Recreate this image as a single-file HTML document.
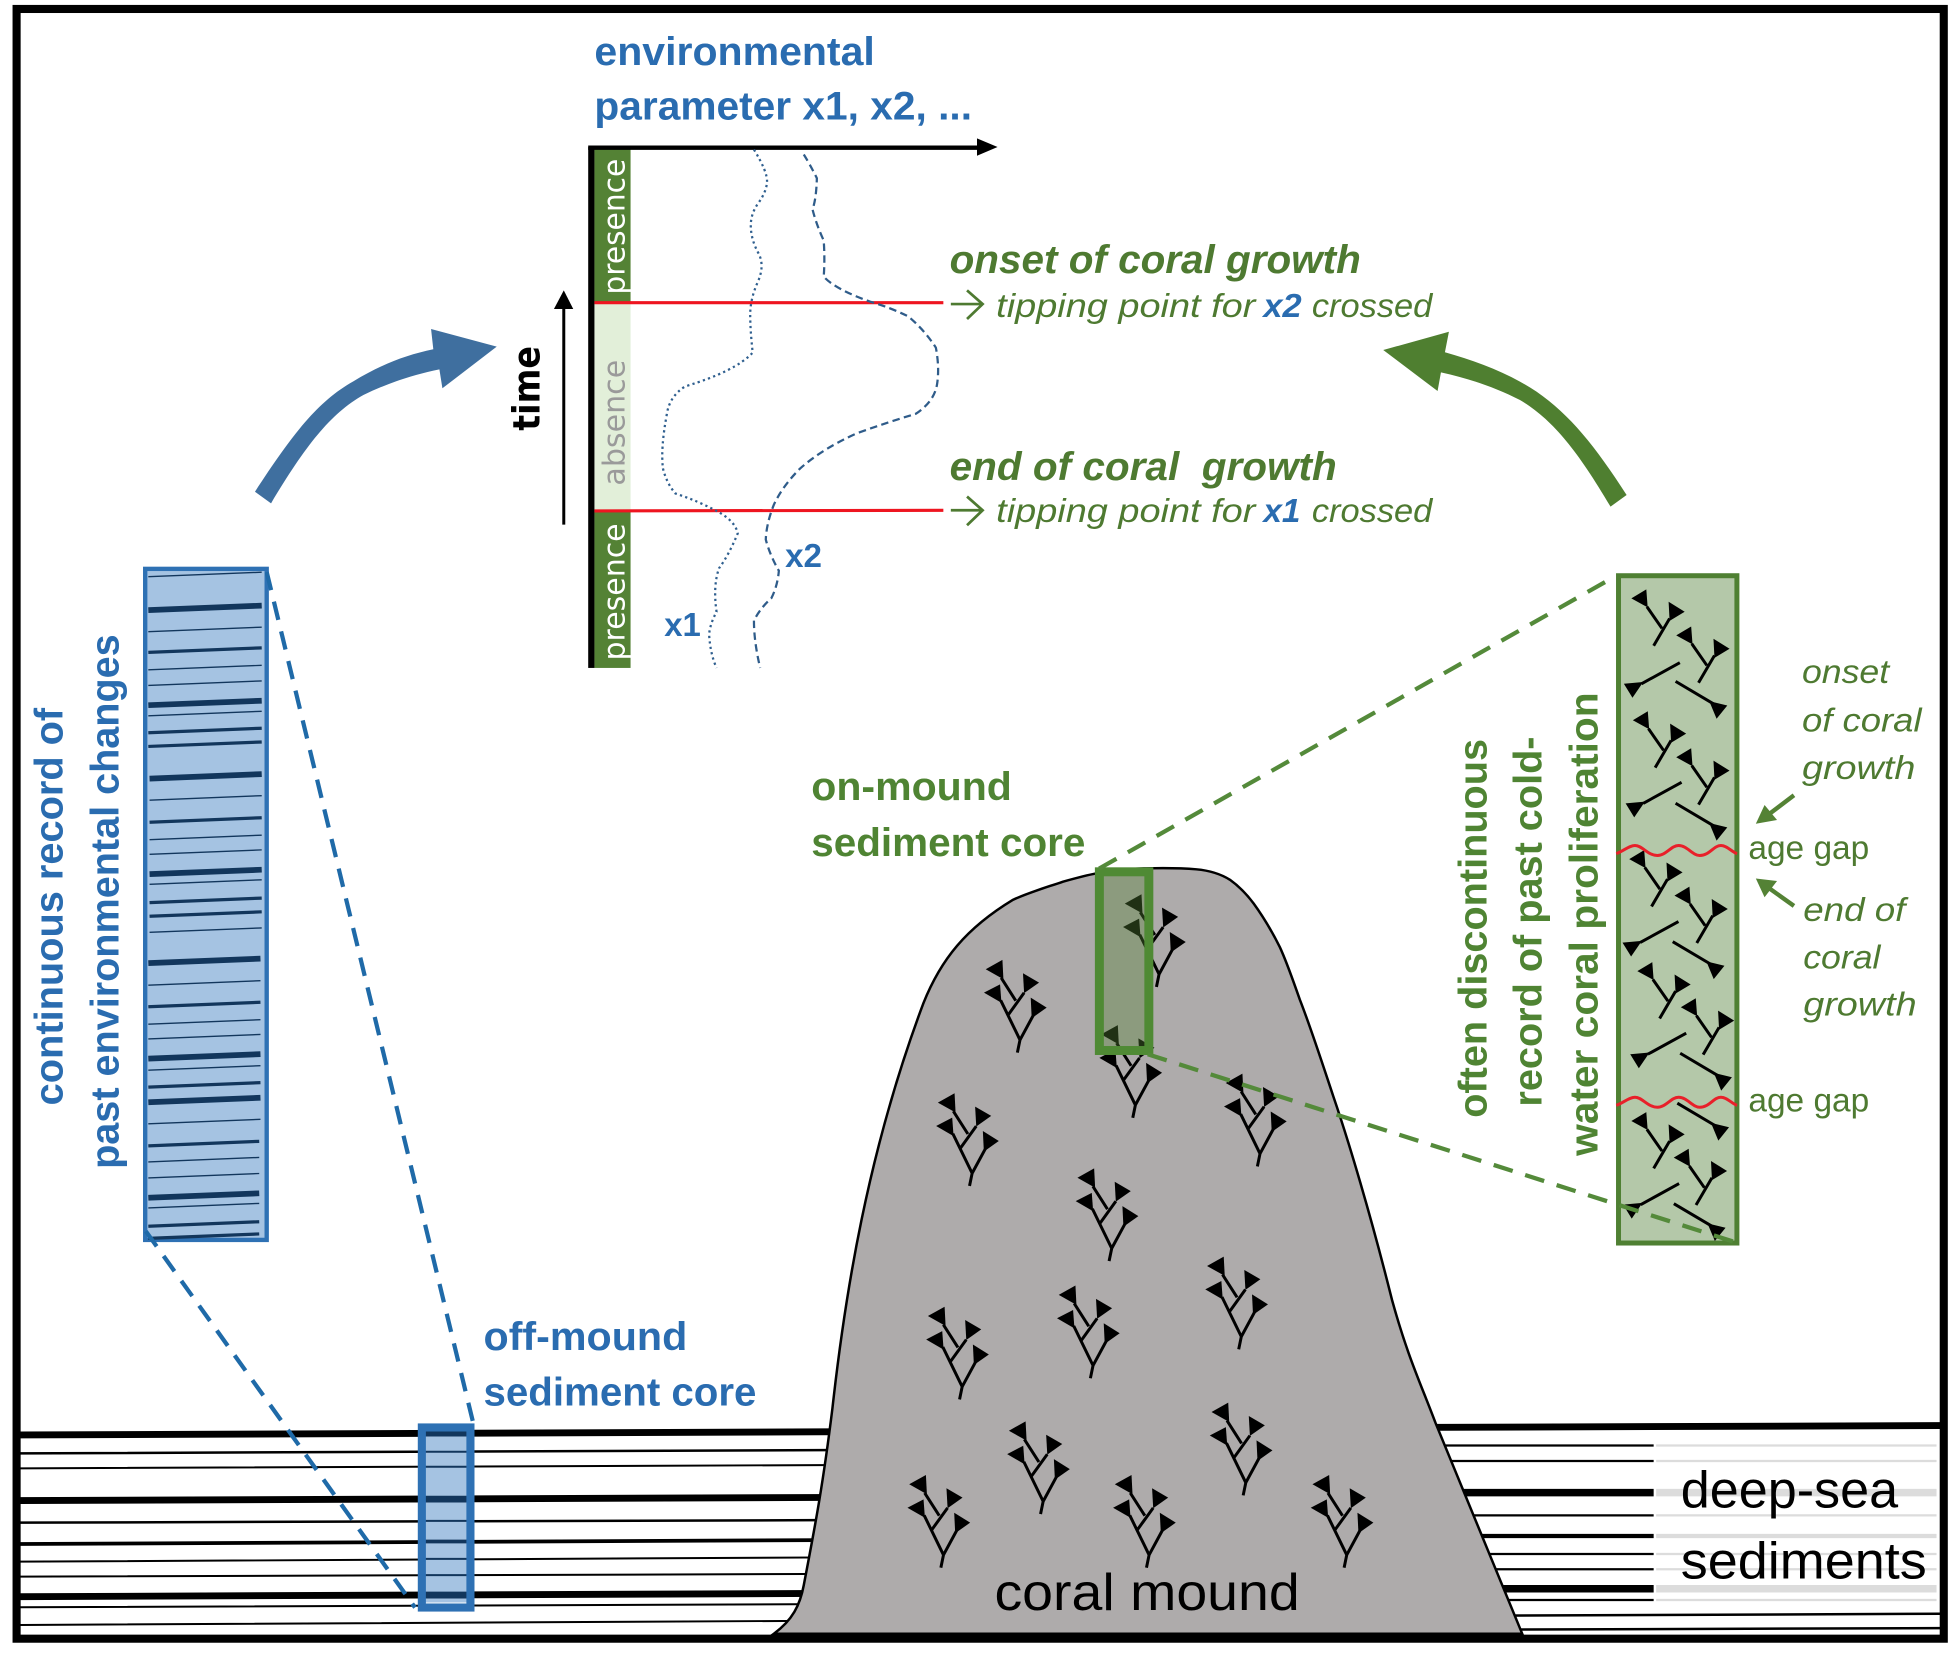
<!DOCTYPE html>
<html><head><meta charset="utf-8"><style>
html,body{margin:0;padding:0;background:#fff}
svg{display:block}
text{font-family:"Liberation Sans",sans-serif}
.b{font-weight:bold}
.blue{fill:#2a6cb0}
.grn{fill:#4f8433}
.dg{fill:#4e7a31}
</style></head><body>
<svg xmlns="http://www.w3.org/2000/svg" width="1954" height="1658" viewBox="0 0 1568 1330.5">
<defs>
<g id="c" fill="#000" stroke="none">
<path d="M0,0L2.1,-10.2M2.1,-10.2L-13.4,-42M2.1,-10.2L12.8,-30M-13,-60L-1.3,-41.7M5.4,-48L-8,-29.4" stroke="#000" stroke-width="2.4" fill="none"/>
<path d="M-26.8,-48.1L-13.9,-54.8L-12.8,-40Z"/>
<path d="M-25.4,-66.9L-12,-74.4L-11.2,-58.9Z"/>
<path d="M4.5,-63.7L17.4,-56.2L5.4,-47.7Z"/>
<path d="M10.7,-44.1L23.5,-36.1L11.5,-27.6Z"/>
</g>
<g id="y">
<path d="M-5.4,-31.3L6.7,-13.9M12.8,-21.9L0,0" stroke="#000" stroke-width="2.4" fill="none"/>
<path d="M-17.9,-38L-5.9,-45.2L-4.8,-30.8Z M12,-35.3L24.9,-27.3L12.8,-20Z" fill="#000"/>
</g>
<g id="l">
<path d="M0,0L-30.8,16.9" stroke="#000" stroke-width="2.4" fill="none"/>
<path d="M-44.9,16.9L-29.4,15.5L-38,28.1Z" fill="#000"/>
</g>
<g id="r">
<path d="M0,0L30.2,17.9" stroke="#000" stroke-width="2.4" fill="none"/>
<path d="M27,15.8L41.5,19.3L32.9,30Z" fill="#000"/>
</g>
</defs>

<rect width="1568" height="1330.5" fill="#fff"/>

<!-- left sediment layers -->
<g stroke="#000" fill="none">
<path d="M16,1151.5L680,1148.9M16,1204.2L680,1201.6M16,1281.3L680,1278.6" stroke-width="5.5"/>
<path d="M16,1239L680,1235.8" stroke-width="3"/>
<path d="M16,1166.3L680,1163.6M16,1221.9L680,1219.8" stroke-width="2"/>
<path d="M16,1178.3L680,1175.6M16,1253.2L680,1249.7M16,1265.2L680,1263M16,1289.8L680,1287.2M16,1304L680,1300.5" stroke-width="1.6"/>
</g>
<!-- right sediment layers -->
<g stroke="#000" fill="none">
<path d="M1130,1145.5L1557,1144" stroke-width="5.5"/>
<path d="M1130,1160H1327M1130,1172.4H1327M1130,1216H1327M1130,1247H1327M1130,1259.3H1327M1130,1284H1327" stroke-width="1.8"/>
<path d="M1130,1232.6H1327" stroke-width="3.5"/>
<path d="M1130,1197.8H1327M1130,1274.9H1327" stroke-width="6"/>
<path d="M1130,1296.8L1557,1295M1130,1308L1557,1306.5" stroke-width="2"/>
</g>
<g stroke="#dcdcdc" fill="none">
<path d="M1329,1160H1554M1329,1172.4H1554M1329,1216H1554M1329,1247H1554M1329,1259.3H1554M1329,1284H1554" stroke-width="1.8"/>
<path d="M1329,1232.6H1554" stroke-width="3.5"/>
<path d="M1329,1197.8H1554M1329,1274.9H1554" stroke-width="6"/>
</g>

<!-- mound -->
<path d="M621,1311 C636,1300 642,1288 645,1272 C653,1230 660,1195 668,1130 C678,1040 696,925 741,805 C755,770 775,745 813,722 C826,716 840,712 853,707.5 C862,705 871,702.5 880,700.8 C893,698.5 907,697 920,696.8 C933,696.5 947,696.5 960,697.6 C970,698.5 979,701 987,706 C994,711 1000,717 1006,725 C1014,736 1021,748 1027,760 C1033,773 1038,788 1043,802 C1052,825 1060,850 1070,880 C1082,915 1100,975 1117,1043 C1130,1090 1140,1110 1152,1142 L1221.5,1311 Z" fill="#aeabab" stroke="#000" stroke-width="2"/>

<!-- corals in mound -->
<use href="#c" x="816.4" y="844.7"/><use href="#c" x="909" y="897"/><use href="#c" x="778" y="951.7"/>
<use href="#c" x="1009" y="936"/><use href="#c" x="928" y="792"/><use href="#c" x="890" y="1012"/>
<use href="#c" x="770" y="1123"/><use href="#c" x="875" y="1106"/><use href="#c" x="994" y="1082.8"/>
<use href="#c" x="835" y="1215"/><use href="#c" x="997.6" y="1200"/><use href="#c" x="755" y="1258"/>
<use href="#c" x="920" y="1258"/><use href="#c" x="1078.6" y="1258"/>

<!-- off-mound core -->
<rect x="338.5" y="1145.5" width="39" height="144.5" fill="#a5c3e2"/>
<g stroke="#12365c" fill="none">
<path d="M339,1150H377M339,1203H377M339,1280H377" stroke-width="5.5"/>
<path d="M339,1237H377" stroke-width="3"/>
<path d="M339,1165H377M339,1220.5H377M339,1177H377M339,1251H377M339,1264H377" stroke-width="1.6"/>
<path d="M339,1287H377" stroke="#fff" stroke-width="2"/>
</g>
<rect x="338.5" y="1145.5" width="39" height="144.5" fill="none" stroke="#2e71b4" stroke-width="6.5"/>

<!-- green core in mound -->
<rect x="882.2" y="699.6" width="39.7" height="143.4" fill="#548235" fill-opacity=".38" stroke="#4f8a34" stroke-width="7.2"/>

<!-- blue core left -->
<rect x="116.5" y="456.5" width="97.5" height="538.5" fill="#a5c3e2" stroke="#2e71b4" stroke-width="3.5"/>
<g fill="none" stroke="#12365c">
<path stroke-width="4.6" d="M119,489.6L210,486M119,565.9L210,562.3M120,624.8L210,621.2M120,701.5L210,697.9M119,772.9L209,769.3M119,849.5L209,845.9M119,884.5L209,880.9M119,961.2L208,957.6"/>
<path stroke-width="2.6" d="M119,523.5L210,519.9M119,588L210,584.4M119,599L210,595.4M120,659.8L210,656.2M120,724.3L210,720.7M120,735.3L210,731.7M119,807.9L209,804.3M119,872.4L209,868.8M119,919.5L208,915.9M119,984L208,980.4M119,993.8L208,990.2"/>
<path stroke-width="1.1" d="M119,462.8L210,459.2M119,506.9L210,503.3M119,537.5L210,533.9M119,550L210,546.4M119,574.4L210,570.8M120,642.1L210,638.5M120,673.8L210,670.2M120,685.6L210,682M120,709.6L210,706M120,748.2L210,744.6M119,790.6L209,787M119,821.9L209,818.3M119,833.7L209,830.1M119,858.8L209,855.2M119,901.8L209,898.2M119,932.4L208,928.8M119,945.3L208,941.7M119,969.3L208,965.7"/>
</g>

<!-- blue dashes -->
<path d="M214,459L380,1143M117,988L333,1290" fill="none" stroke="#1f6aa8" stroke-width="3.4" stroke-dasharray="15 9.5"/>

<!-- right core -->
<rect x="1298.8" y="462" width="95" height="535.5" fill="#b4c8a9" stroke="#4f8033" stroke-width="4"/>
<use href="#y" x="1327" y="518.2"/><use href="#y" x="1363" y="547.9"/><use href="#y" x="1328.2" y="616"/>
<use href="#y" x="1363" y="645.7"/><use href="#y" x="1325.3" y="727.4"/><use href="#y" x="1361.6" y="756.7"/>
<use href="#y" x="1331.8" y="817.3"/><use href="#y" x="1366.7" y="846.3"/><use href="#y" x="1327" y="937.6"/>
<use href="#y" x="1361" y="967"/>
<use href="#l" x="1348" y="531.8"/><use href="#l" x="1349.4" y="627.8"/><use href="#l" x="1346.9" y="739.5"/>
<use href="#l" x="1353.1" y="829.1"/><use href="#l" x="1347.4" y="949.8"/>
<use href="#r" x="1344.6" y="546.8"/><use href="#r" x="1344.6" y="644.6"/><use href="#r" x="1342.3" y="755.7"/>
<use href="#r" x="1348.3" y="845.2"/><use href="#r" x="1346" y="885.3"/><use href="#r" x="1343.2" y="965.9"/>

<!-- red waves -->
<g fill="none" stroke="#e8202a" stroke-width="2.4">
<path d="M1297,685 C1303,683 1307,678.5 1312,678.5 C1318,678.5 1322,686.5 1330,686.5 C1337,686.5 1341,678.5 1347,678.5 C1354,678.5 1358,686.5 1364,686.5 C1372,686.5 1375,678.5 1381,678.5 C1386,678.5 1390,684 1394,685"/>
<path d="M1297,887 C1303,885 1307,880.5 1312,880.5 C1318,880.5 1322,888.5 1330,888.5 C1337,888.5 1341,880.5 1347,880.5 C1354,880.5 1358,888.5 1364,888.5 C1372,888.5 1375,880.5 1381,880.5 C1386,880.5 1390,886 1394,887"/>
</g>

<!-- green dashes -->
<path d="M882,697L1297,462M921,846L1393,997" fill="none" stroke="#548a3a" stroke-width="3.4" stroke-dasharray="16 10.5"/>

<!-- small green arrows -->
<path d="M1439.6,638.2L1420,653" stroke="#548235" stroke-width="3.5" fill="none"/>
<path d="M1409,661L1416,646L1426,658Z" fill="#548235"/>
<path d="M1439.6,727L1420,713" stroke="#548235" stroke-width="3.5" fill="none"/>
<path d="M1409,705L1426,707L1416,720Z" fill="#548235"/>

<!-- big arrows -->
<path d="M204.6,394.6 C235,348 255,322 283.5,306 C305,293 325,285 347.7,280.3 L345.9,264 L398.6,278.2 L355,311.6 L352.6,296.4 C330,301 310,308 291.6,317 C265,332 245,358 217.5,403.9 Z" fill="#3f6f9f"/>
<path d="M1305.3,397.2 C1280,358 1260,333 1233,314.3 C1210,299 1185,290 1159.5,282.7 L1162.7,266.2 L1110,280.9 L1153.6,313.8 L1156.3,298.8 C1180,304 1200,311 1219.7,321 C1245,336 1265,360 1292.4,406.6 Z" fill="#4f7f30"/>

<!-- chart -->
<rect x="477" y="118" width="29" height="124.5" fill="#548235"/>
<rect x="477" y="242.5" width="29" height="168" fill="#e2efd9"/>
<rect x="477" y="410.5" width="29" height="125.5" fill="#548235"/>
<rect x="472" y="118" width="5" height="418" fill="#000"/>
<path d="M472,118.5H786" stroke="#000" stroke-width="3.5"/>
<path d="M784,111L800.5,118L784,125Z" fill="#000"/>
<path d="M452.4,421V246" stroke="#000" stroke-width="2.4"/>
<path d="M444.5,248L452.4,233L460,248Z" fill="#000"/>
<path d="M477,242.9H757M477,410L757,409.5" stroke="#ee1520" stroke-width="2.5"/>
<path d="M605,120 Q616,138 615.5,146 Q615,154 608.5,163 Q602,172 602.5,182.5 Q603,193 608.5,203 Q614,213 608,226.5 Q602,240 602,252.5 Q602,265 604,283 Q590,298 550,310 Q537,318 535,333 Q530,360 532,376 Q535,388 542,396 Q560,402 575,410 Q590,418 592,428 Q585,445 577,456 Q572,470 575,491 Q570,500 569,509 Q570,525 575,536" fill="none" stroke="#2f5f8f" stroke-width="1.8" stroke-dasharray="1.8 2.6"/>
<path d="M645,124 Q650,132 655.5,143 Q655,160 652,168 Q655,180 661,193 Q662,208 661,222 Q670,232 698,242 Q715,247 729,254 Q742,265 751,279 Q754,295 752,308 Q750,322 735,332 Q712,339 688,347.5 Q660,360 642,376 Q628,390 621,405 Q615,420 614.5,433 Q618,446 625,458 Q624,470 619,480 Q610,488 605,498 Q605,515 610,536" fill="none" stroke="#2f5c8a" stroke-width="1.8" stroke-dasharray="6 3.5"/>

<g font-size="24">
<text transform="translate(501,236.4) rotate(-90)" fill="#fff" textLength="109" lengthAdjust="spacingAndGlyphs" style="font-family:'DejaVu Sans',sans-serif">presence</text>
<text transform="translate(501,530) rotate(-90)" fill="#fff" textLength="110" lengthAdjust="spacingAndGlyphs" style="font-family:'DejaVu Sans',sans-serif">presence</text>
<text transform="translate(501,389.7) rotate(-90)" fill="#9a9a9a" textLength="101" lengthAdjust="spacingAndGlyphs" style="font-family:'DejaVu Sans',sans-serif">absence</text>
</g>
<text transform="translate(433,345.7) rotate(-90)" font-size="30" font-weight="bold" fill="#000" textLength="68" lengthAdjust="spacingAndGlyphs" style="font-family:'DejaVu Sans',sans-serif">time</text>

<!-- blue labels -->
<g class="b blue" font-size="32">
<text x="477" y="52" textLength="225" lengthAdjust="spacingAndGlyphs">environmental</text>
<text x="477" y="96" textLength="303" lengthAdjust="spacingAndGlyphs">parameter x1, x2, ...</text>
<text x="388" y="1083.3" textLength="163.5" lengthAdjust="spacingAndGlyphs">off-mound</text>
<text x="388" y="1128" textLength="219" lengthAdjust="spacingAndGlyphs">sediment core</text>
<text transform="translate(50.3,887) rotate(-90)" textLength="319" lengthAdjust="spacingAndGlyphs">continuous record of</text>
<text transform="translate(95,938) rotate(-90)" textLength="429" lengthAdjust="spacingAndGlyphs">past environmental changes</text>
</g>
<g class="b blue" font-size="27">
<text x="533" y="510.5" textLength="29.4" lengthAdjust="spacingAndGlyphs">x1</text>
<text x="630" y="455" textLength="29.6" lengthAdjust="spacingAndGlyphs">x2</text>
</g>

<!-- green labels -->
<g class="b grn" font-size="32">
<text x="651" y="642" textLength="161" lengthAdjust="spacingAndGlyphs">on-mound</text>
<text x="651" y="687" textLength="220" lengthAdjust="spacingAndGlyphs">sediment core</text>
<text transform="translate(1192.9,897) rotate(-90)" textLength="304" lengthAdjust="spacingAndGlyphs">often discontinuous</text>
<text transform="translate(1236.8,888) rotate(-90)" textLength="297" lengthAdjust="spacingAndGlyphs">record of past cold-</text>
<text transform="translate(1282,927.6) rotate(-90)" textLength="372" lengthAdjust="spacingAndGlyphs">water coral proliferation</text>
</g>
<g class="b dg" font-size="32" font-style="italic">
<text x="762" y="219" textLength="330" lengthAdjust="spacingAndGlyphs">onset of coral growth</text>
<text x="762" y="385" textLength="310.7" lengthAdjust="spacingAndGlyphs" xml:space="preserve">end of coral  growth</text>
</g>
<g fill="none" stroke="#4e7a31" stroke-width="2.2">
<path d="M763,244H788M776,233L788.5,244L776,256"/>
<path d="M763,409.5H788M776,398.5L788.5,409.5L776,421.5"/>
</g>
<g class="dg" font-size="27" font-style="italic">
<text x="799.4" y="254.3" textLength="208" lengthAdjust="spacingAndGlyphs">tipping point for</text>
<text x="1052.7" y="254.3" textLength="96.7" lengthAdjust="spacingAndGlyphs">crossed</text>
<text x="799.4" y="419" textLength="208" lengthAdjust="spacingAndGlyphs">tipping point for</text>
<text x="1052.7" y="419" textLength="96.7" lengthAdjust="spacingAndGlyphs">crossed</text>
<text x="1446" y="548" textLength="70" lengthAdjust="spacingAndGlyphs">onset</text>
<text x="1446" y="587" textLength="96" lengthAdjust="spacingAndGlyphs">of coral</text>
<text x="1446" y="625" textLength="91" lengthAdjust="spacingAndGlyphs">growth</text>
<text x="1447" y="739" textLength="82" lengthAdjust="spacingAndGlyphs">end of</text>
<text x="1447" y="777" textLength="62" lengthAdjust="spacingAndGlyphs">coral</text>
<text x="1447" y="815" textLength="91" lengthAdjust="spacingAndGlyphs">growth</text>
</g>
<g class="b blue" font-size="27" font-style="italic">
<text x="1013.8" y="254.3" textLength="30.7" lengthAdjust="spacingAndGlyphs">x2</text>
<text x="1013.8" y="419" textLength="29.7" lengthAdjust="spacingAndGlyphs">x1</text>
</g>
<g class="dg" font-size="27">
<text x="1403" y="689.4" textLength="97" lengthAdjust="spacingAndGlyphs">age gap</text>
<text x="1403" y="891.8" textLength="97" lengthAdjust="spacingAndGlyphs">age gap</text>
</g>

<!-- black labels -->
<text x="798" y="1292" font-size="42" fill="#000" textLength="245" lengthAdjust="spacingAndGlyphs">coral mound</text>
<text x="1348.7" y="1209.6" font-size="42" fill="#000" textLength="174.5" lengthAdjust="spacingAndGlyphs">deep-sea</text>
<text x="1348.7" y="1266.6" font-size="42" fill="#000" textLength="197.5" lengthAdjust="spacingAndGlyphs">sediments</text>

<!-- frame -->
<rect x="13.3" y="7.2" width="1546.5" height="1307.8" fill="none" stroke="#000" stroke-width="6.5"/>
</svg>
</body></html>
